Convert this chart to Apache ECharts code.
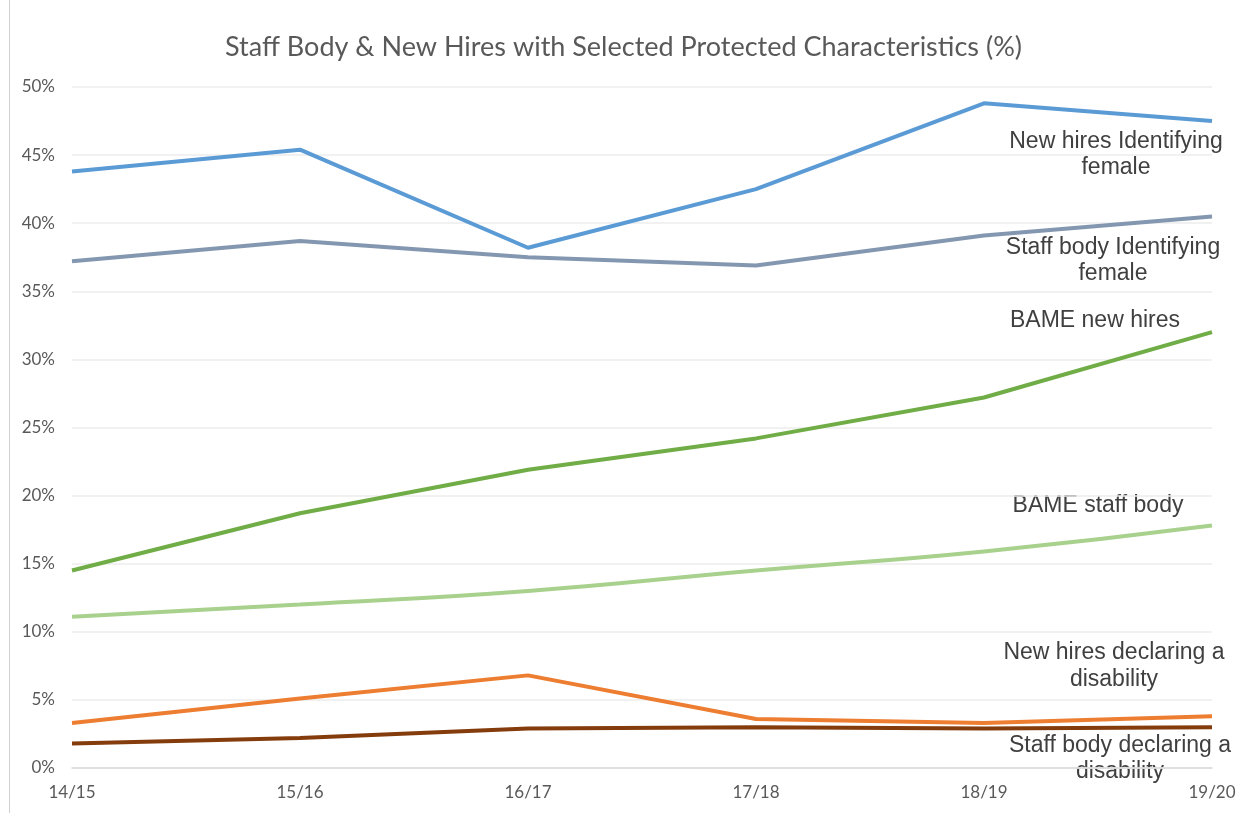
<!DOCTYPE html>
<html>
<head>
<meta charset="utf-8">
<script src="https://cdn.jsdelivr.net/npm/echarts@6/dist/echarts.min.js"></script>
<style>
  html, body { margin: 0; padding: 0; background: #fff; }
  #chart { width: 1247px; height: 813px; }
</style>
</head>
<body>
<div id="chart"></div>
<script>
  // categories and values (percent)
  var years = ['14/15', '15/16', '16/17', '17/18', '18/19', '19/20']
  var newHiresFemale = [43.8, 45.4, 38.2, 42.5, 48.8, 47.5]
  var staffFemale = [37.2, 38.7, 37.5, 36.9, 39.1, 40.5]
  var bameNewHires = [14.5, 18.7, 21.9, 24.2, 27.2, 32.0]
  var bameStaff = [11.1, 12.0, 13.0, 14.5, 15.9, 17.8]
  var newHiresDisability = [3.3, 5.1, 6.8, 3.6, 3.3, 3.8]
  var staffDisability = [1.8, 2.2, 2.9, 3.0, 2.9, 3.0]

  var labelFont = '"Liberation Sans", Arial, sans-serif'
  var axisFont = 'Lato, "Open Sans", sans-serif'

  function line (name, data, color, smooth) {
    return {
      name: name,
      type: 'line',
      data: data,
      smooth: smooth || false,
      symbol: 'none',
      lineStyle: { color: color, width: 4 },
    }
  }

  function note (x, y, text) {
    return {
      type: 'text',
      x: x,
      y: y,
      style: {
        text: text,
        font: '23px ' + labelFont,
        fill: '#404040',
        align: 'center',
        verticalAlign: 'middle',
      },
    }
  }

  var chart = echarts.init(document.getElementById('chart'))
  chart.setOption({
    animation: false,
    title: {
      text: 'Staff Body & New Hires with Selected Protected Characteristics (%)',
      left: 'center',
      top: 29,
      textStyle: {
        fontFamily: axisFont,
        fontWeight: 'normal',
        fontSize: 27,
        color: '#595959',
      },
    },
    grid: { left: 72, right: 35, top: 87, bottom: 45 },
    xAxis: {
      type: 'category',
      data: years,
      boundaryGap: false,
      axisLine: { lineStyle: { color: '#d9d9d9', width: 1.5 } },
      axisTick: { show: false },
      axisLabel: { color: '#595959', fontSize: 17, fontFamily: axisFont, margin: 16 },
    },
    yAxis: {
      type: 'value',
      min: 0,
      max: 50,
      interval: 5,
      axisLine: { show: false },
      axisTick: { show: false },
      splitLine: { lineStyle: { color: '#ececec', width: 1.5 } },
      axisLabel: {
        color: '#595959',
        fontSize: 17,
        fontFamily: axisFont,
        margin: 17,
        formatter: '{value}%',
      },
    },
    series: [
      line('New hires Identifying female', newHiresFemale, '#5b9bd5'),
      line('Staff body Identifying female', staffFemale, '#8497b0'),
      line('BAME new hires', bameNewHires, '#70ad47'),
      line('BAME staff body', bameStaff, '#a9d18e', true),
      line('New hires declaring a disability', newHiresDisability, '#ed7d31'),
      line('Staff body declaring a disability', staffDisability, '#843c0c'),
    ],
    graphic: [
      { type: 'rect', shape: { x: 9, y: 0, width: 1, height: 813 }, style: { fill: '#d0d0d0' } },
      note(1116, 142, 'New hires Identifying'),
      note(1116, 168, 'female'),
      note(1113, 248, 'Staff body Identifying'),
      note(1113, 274, 'female'),
      note(1095, 321, 'BAME new hires'),
      note(1098, 506, 'BAME staff body'),
      note(1114, 653, 'New hires declaring a'),
      note(1114, 680, 'disability'),
      note(1120, 746, 'Staff body declaring a'),
      note(1120, 772, 'disability'),
    ],
  })
</script>
</body>
</html>
